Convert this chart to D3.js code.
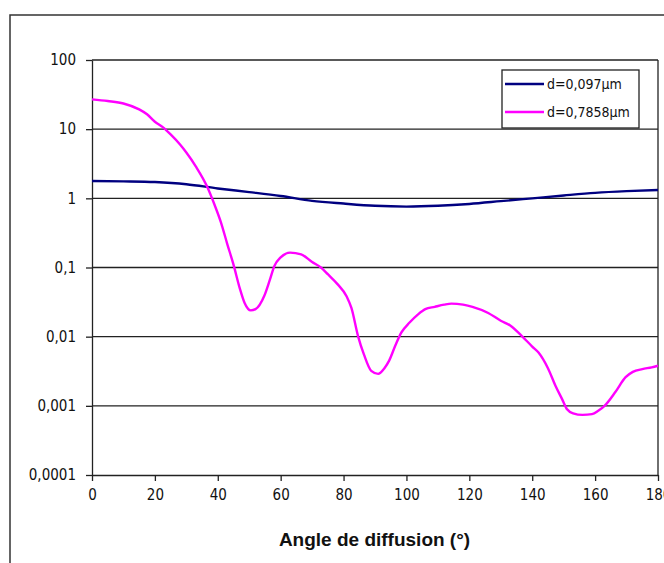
<!DOCTYPE html>
<meta charset="utf-8">
<html>
<head>
<script src="https://d3js.org/d3.v7.min.js"></script>
<style>
  body { margin: 0; background: #ffffff; }
  .tick-label { font-family: "DejaVu Sans Condensed", "DejaVu Sans", sans-serif; font-stretch: condensed; font-size: 15px; fill: #111; }
</style>
</head>
<body>
<div id="my_dataviz"></div>
<script>

// angles (degrees) and intensities
var angleSmall = [0, 10, 20, 30, 40, 50, 60, 70, 80, 90, 100, 110, 120, 130, 140, 150, 160, 170, 180]
var valueSmall = [1.78, 1.76, 1.72, 1.60, 1.39, 1.23, 1.08, 0.92, 0.84, 0.78, 0.76, 0.78, 0.83, 0.91, 1.0, 1.1, 1.2, 1.27, 1.32]

var angleLarge = [0, 5, 10, 15, 17.5, 20, 22.5, 25, 28, 30, 33, 36.6, 39, 41, 43, 45, 47, 48.5, 50.5, 52, 54.8, 56.5, 58, 60, 63, 66.5, 70, 72.8, 75, 78, 81, 82.5, 84.6, 86.5, 88.8, 91, 93, 94.5, 96.5, 98.4, 101, 103.7, 106, 109, 112, 114.3, 118, 121, 126, 130, 133, 136.7, 140, 142, 145, 147.5, 149.5, 151, 153, 156, 159, 161, 163, 166.5, 169.7, 172, 175, 178, 180]
var valueLarge = [27, 25.5, 23.5, 19.3, 16.4, 12.8, 10.7, 8.4, 6.0, 4.6, 2.9, 1.48, 0.8, 0.45, 0.22, 0.11, 0.05, 0.031, 0.024, 0.025, 0.039, 0.065, 0.105, 0.14, 0.164, 0.155, 0.12, 0.10, 0.08, 0.058, 0.038, 0.026, 0.0102, 0.0055, 0.0032, 0.0029, 0.0035, 0.0045, 0.0075, 0.0115, 0.016, 0.021, 0.025, 0.027, 0.029, 0.030, 0.029, 0.027, 0.022, 0.017, 0.0145, 0.0102, 0.0072, 0.0059, 0.0035, 0.0019, 0.00125, 0.0009, 0.00078, 0.00074, 0.00076, 0.00085, 0.001, 0.0016, 0.0026, 0.0031, 0.0034, 0.0036, 0.0038]

var seriesNames = ["d=0,097\u00b5m", "d=0,7858\u00b5m"]
var seriesColors = ["#000080", "#ff00ff"]

var xTicks = [0, 20, 40, 60, 80, 100, 120, 140, 160, 180]
var yTicks = [0.0001, 0.001, 0.01, 0.1, 1, 10, 100]
var yTickLabels = ["0,0001", "0,001", "0,01", "0,1", "1", "10", "100"]

var W = 664, H = 563
var plot = {left: 92, right: 658, top: 60, bottom: 475}

var svg = d3.select("#my_dataviz")
  .append("svg")
  .attr("width", W)
  .attr("height", H)

// chart area frame (cut by the picture on the right and bottom)
svg.append("path")
  .attr("d", "M10," + (H + 5) + " L10,15 L" + (W + 5) + ",15")
  .attr("fill", "none")
  .attr("stroke", "#333")
  .attr("stroke-width", 1.5)

var x = d3.scaleLinear().domain([0, 180]).range([plot.left, plot.right])
var y = d3.scaleLog().domain([0.0001, 100]).range([plot.bottom, plot.top])

// horizontal gridlines
svg.append("g")
  .selectAll("line")
  .data(yTicks.slice(1))
  .enter()
  .append("line")
    .attr("x1", plot.left)
    .attr("x2", plot.right)
    .attr("y1", function(d) { return y(d) })
    .attr("y2", function(d) { return y(d) })
    .attr("stroke", "#222")
    .attr("stroke-width", 1.3)

// right border of plot area
svg.append("line")
  .attr("x1", plot.right).attr("x2", plot.right)
  .attr("y1", plot.top).attr("y2", plot.bottom)
  .attr("stroke", "#222").attr("stroke-width", 1.3)

// X axis
var xAxis = svg.append("g")
  .attr("transform", "translate(0," + plot.bottom + ")")
  .call(d3.axisBottom(x).tickValues(xTicks).tickSize(6).tickSizeOuter(0).tickPadding(8))
xAxis.selectAll("path, line").attr("stroke", "#222").attr("stroke-width", 1.3)
xAxis.selectAll("text").attr("class", "tick-label").attr("font-size", null).attr("font-family", null)

// Y axis
var yAxis = svg.append("g")
  .attr("transform", "translate(" + plot.left + ",0)")
  .call(d3.axisLeft(y).tickValues(yTicks).tickSize(6).tickSizeOuter(0).tickPadding(10)
    .tickFormat(function(d, i) { return yTickLabels[i] }))
yAxis.selectAll("path, line").attr("stroke", "#222").attr("stroke-width", 1.3)
yAxis.selectAll("text").attr("class", "tick-label").attr("font-size", null).attr("font-family", null)

// lines
var line = d3.line()
  .x(function(d) { return x(d[0]) })
  .y(function(d) { return y(d[1]) })
  .curve(d3.curveMonotoneX)

var seriesData = [
  d3.zip(angleSmall, valueSmall),
  d3.zip(angleLarge, valueLarge)
]

svg.append("g")
  .selectAll("path")
  .data(seriesData)
  .enter()
  .append("path")
    .attr("d", line)
    .attr("fill", "none")
    .attr("stroke", function(d, i) { return seriesColors[i] })
    .attr("stroke-width", 2.4)

// axis title
svg.append("text")
  .attr("x", (277 + 472) / 2)
  .attr("y", 546)
  .attr("text-anchor", "middle")
  .style("font-family", "'Liberation Sans', Arial, sans-serif")
  .style("font-weight", "bold")
  .style("font-size", "19px")
  .style("fill", "#111")
  .text("Angle de diffusion (\u00b0)")

// legend
var legend = svg.append("g").attr("transform", "translate(502,70)")
legend.append("rect")
  .attr("width", 137)
  .attr("height", 58)
  .attr("fill", "#fff")
  .attr("stroke", "#222")
  .attr("stroke-width", 1.3)

legend.selectAll("legline")
  .data(seriesNames)
  .enter()
  .append("line")
    .attr("x1", 3)
    .attr("x2", 42)
    .attr("y1", function(d, i) { return 14 + i * 28 })
    .attr("y2", function(d, i) { return 14 + i * 28 })
    .attr("stroke", function(d, i) { return seriesColors[i] })
    .attr("stroke-width", 2.4)

legend.selectAll("legtext")
  .data(seriesNames)
  .enter()
  .append("text")
    .attr("x", 45)
    .attr("y", function(d, i) { return 14 + i * 28 })
    .attr("dy", "0.35em")
    .style("font-family", "'DejaVu Sans Condensed', 'DejaVu Sans', sans-serif")
    .style("font-stretch", "condensed")
    .style("font-size", "14px")
    .style("fill", "#111")
    .text(function(d) { return d })

</script>
</body>
</html>
